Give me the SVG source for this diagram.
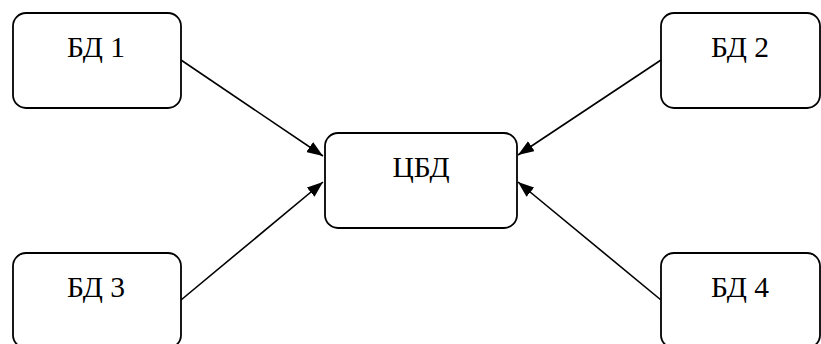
<svg xmlns="http://www.w3.org/2000/svg" width="821" height="344" viewBox="0 0 821 344">
<style>
.box{fill:#fff;stroke:#000;stroke-width:1.8}
.lbl{font-family:"Liberation Serif",serif;font-size:29.5px;fill:#000;text-anchor:middle}
.con{stroke:#000;stroke-width:1.6;fill:none;marker-end:url(#ah)}
</style>
<defs>
<marker id="ah" markerWidth="16" markerHeight="12" refX="16" refY="6" orient="auto" markerUnits="userSpaceOnUse">
<path d="M0,0 L16,6 L0,12 Z" fill="#000"/>
</marker>
</defs>
<rect width="821" height="344" fill="#fff"/>
<g id="connectors">
<line class="con" x1="181" y1="60" x2="323" y2="156"/>
<line class="con" x1="661" y1="60" x2="518" y2="155"/>
<line class="con" x1="181" y1="300" x2="323" y2="182"/>
<line class="con" x1="661" y1="300" x2="518" y2="182"/>
</g>
<g id="bd1"><rect class="box" x="13" y="13" width="168" height="95" rx="13"/><text class="lbl" x="96" y="57">БД 1</text></g>
<g id="bd2"><rect class="box" x="661" y="13" width="159" height="95" rx="13"/><text class="lbl" x="740" y="57">БД 2</text></g>
<g id="bd3"><rect class="box" x="13" y="253" width="168" height="95" rx="13"/><text class="lbl" x="96" y="297">БД 3</text></g>
<g id="bd4"><rect class="box" x="661" y="253" width="159" height="95" rx="13"/><text class="lbl" x="740" y="297">БД 4</text></g>
<g id="cbd"><rect class="box" x="325" y="133" width="192" height="95" rx="13"/><text class="lbl" x="421" y="177">ЦБД</text></g>
</svg>
